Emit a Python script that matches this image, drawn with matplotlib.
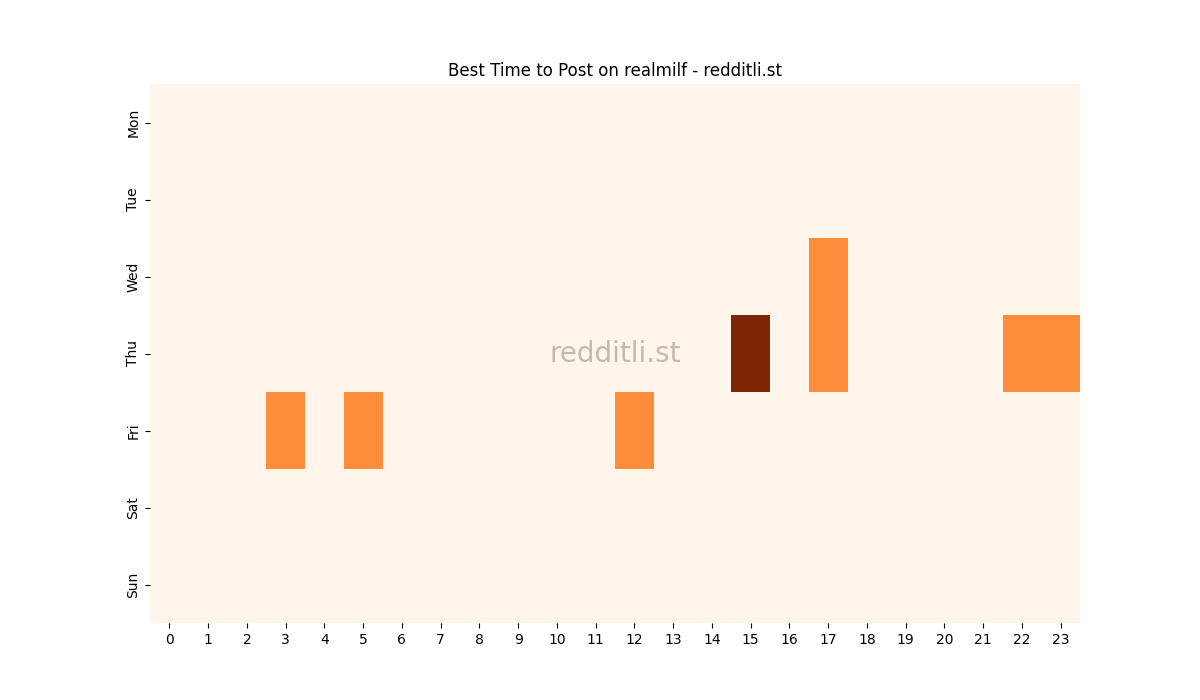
import numpy as np
import matplotlib
matplotlib.use("Agg")
import matplotlib.pyplot as plt
import seaborn as sns

days = ["Mon", "Tue", "Wed", "Thu", "Fri", "Sat", "Sun"]
hours = [str(h) for h in range(24)]

mon = [0]*24
tue = [0]*24
wed = [0]*17 + [1] + [0]*6
thu = [0]*15 + [2, 0, 1, 0, 0, 0, 0, 1, 1]
fri = [0, 0, 0, 1, 0, 1, 0, 0, 0, 0, 0, 0, 1] + [0]*11
sat = [0]*24
sun = [0]*24

data = np.array([mon, tue, wed, thu, fri, sat, sun])

fig, ax = plt.subplots(figsize=(12, 7), dpi=100)
sns.heatmap(data, ax=ax, cmap="Oranges", cbar=False, xticklabels=hours, yticklabels=days)
ax.set_yticklabels(days, rotation=90, va="center")
ax.set_xticklabels(hours, rotation=0)
ax.set_title("Best Time to Post on realmilf - redditli.st")
ax.text(0.5, 0.5, "redditli.st", transform=ax.transAxes, ha="center", va="center",
        fontsize=20, color="gray", alpha=0.5)
fig.savefig("out.png")
